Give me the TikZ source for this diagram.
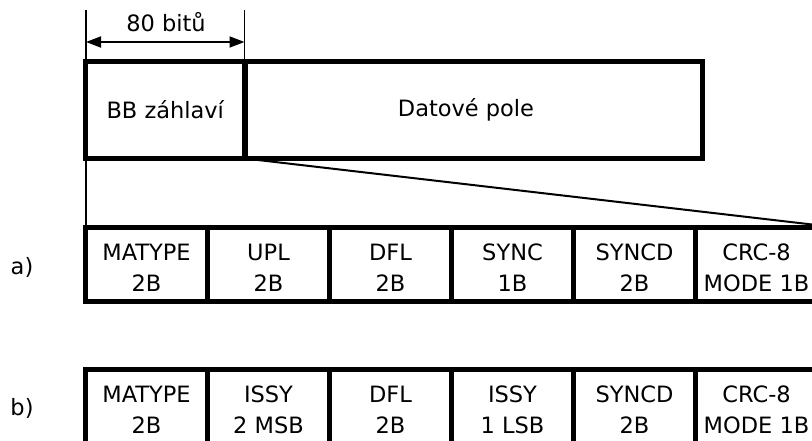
\documentclass[tikz,border=0pt]{standalone}
\usepackage{fontspec}
\setmainfont{DejaVu Sans}
\usetikzlibrary{arrows.meta}
\newcommand{\rowashift}{\rule{0pt}{22.4pt}}
\begin{document}
\begin{tikzpicture}[x=1pt,y=-1pt,
  cell/.style={draw,line width=5pt,minimum width=122pt,minimum height=74pt,inner sep=0pt,outer sep=0pt,align=center,font=\fontsize{22.5}{31}\selectfont},
  bcell/.style={cell,minimum height=80pt},
  lbl/.style={font=\fontsize{22.5}{27}\selectfont,inner sep=0pt},
  thinline/.style={line width=1.8pt},
  dimarrow/.style={thinline,{Triangle[length=15pt,width=11pt]}-{Triangle[length=15pt,width=11pt]}}]
\useasboundingbox (0,0) rectangle (812,441);
% top frame
\node[cell,minimum width=159.5pt,minimum height=97pt] (bb) at (165.25,110) {BB záhlaví};
\node[cell,minimum width=458pt,minimum height=97pt] (dp) at (473.5,110) {};
\node[lbl] (dptext) at (466,110) {Datové pole};
% row a
\node[cell] (a1) at (146.5,264.5) {\rowashift MATYPE\\2B};
\node[cell] (a2) at (268.5,264.5) {\rowashift UPL\\2B};
\node[cell] (a3) at (390.5,264.5) {\rowashift DFL\\2B};
\node[cell] (a4) at (512.5,264.5) {\rowashift SYNC\\1B};
\node[cell] (a5) at (634.5,264.5) {\rowashift SYNCD\\2B};
\node[cell] (a6) at (756.5,264.5) {\rowashift CRC-8\\MODE 1B};
% row b
\node[bcell] (b1) at (146.5,409.5) {MATYPE\\2B};
\node[bcell] (b2) at (268.5,409.5) {ISSY\\2 MSB};
\node[bcell] (b3) at (390.5,409.5) {DFL\\2B};
\node[bcell] (b4) at (512.5,409.5) {ISSY\\1 LSB};
\node[bcell] (b5) at (634.5,409.5) {SYNCD\\2B};
\node[bcell] (b6) at (756.5,409.5) {CRC-8\\MODE 1B};
% row labels
\node[lbl] (la) at (22,267) {a)};
\node[lbl] (lb) at (22,408) {b)};
% dimension
\coordinate (t1) at (86,10);
\coordinate (t2) at (244.5,10);
\coordinate (d1) at (86,42);
\coordinate (d2) at (244.5,42);
\draw[thinline] (t1) -- (t1 |- a1.north);
\draw[thinline] (t2) -- (t2 |- bb.north);
\draw[dimarrow] (d1) -- (d2);
\node[lbl] (dimtext) at (166,22) {80 bitů};
% expansion line
\coordinate (de) at (812,224.5);
\draw[line width=2pt] (bb.south east) -- (de);
\end{tikzpicture}
\end{document}
